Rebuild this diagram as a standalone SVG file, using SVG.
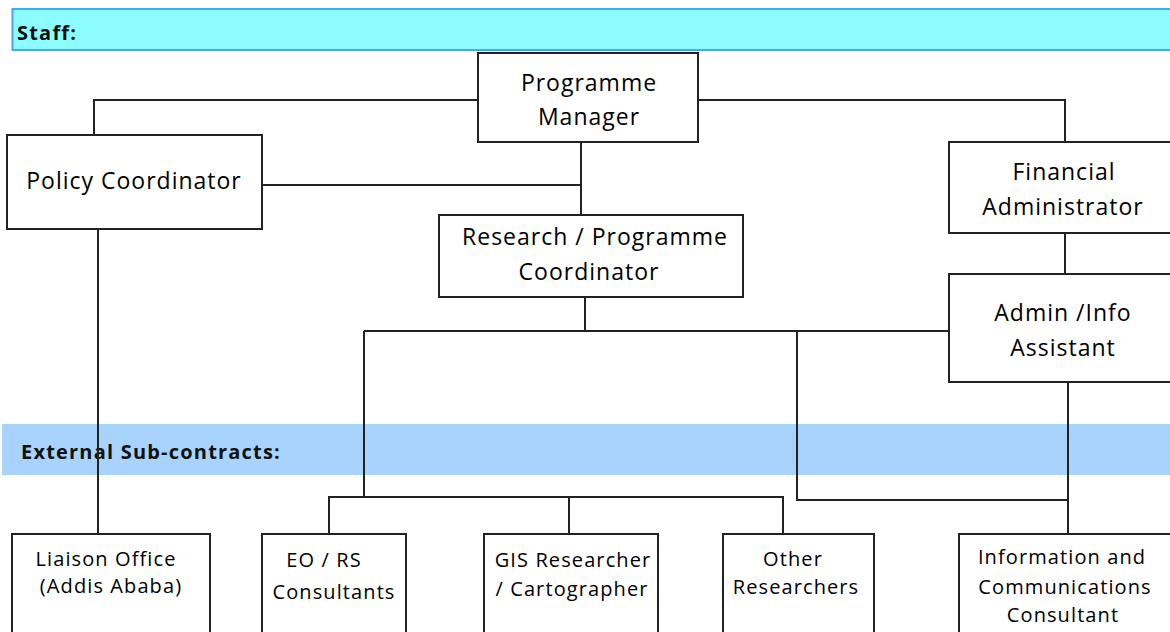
<svg xmlns="http://www.w3.org/2000/svg" width="1170" height="632" viewBox="0 0 1170 632">
<style>
.box{fill:#fff;stroke:#222;stroke-width:2}
.ln{fill:none;stroke:#222;stroke-width:2}
.t{font-family:"Open Sans","Liberation Sans",sans-serif;font-size:23px;letter-spacing:1px;fill:#000;text-anchor:middle}
.s{font-family:"Open Sans","Liberation Sans",sans-serif;font-size:20px;letter-spacing:1.1px;fill:#000;text-anchor:middle}
.h{font-family:"Open Sans","Liberation Sans",sans-serif;font-size:20px;font-weight:bold;letter-spacing:1.2px;fill:#111}
</style>
<rect width="1170" height="632" fill="#fff"/>
<g id="staff-band">
<rect x="12.5" y="9" width="1170" height="41" fill="#8dfcff" stroke="#45a6ff" stroke-width="2"/>
<text class="h" x="17" y="40">Staff:</text>
</g>
<g id="external-band">
<rect x="2" y="424" width="1180" height="51" fill="#a8d3fd"/>
<text class="h" x="21" y="459">External Sub-contracts:</text>
</g>
<g id="connectors">
<path class="ln" d="M94,135 V100 H478"/>
<path class="ln" d="M698,100 H1065 V142"/>
<path class="ln" d="M262,185 H581"/>
<path class="ln" d="M581,142 V215"/>
<path class="ln" d="M1065,233 V274"/>
<path class="ln" d="M585,297 V331"/>
<path class="ln" d="M364,331 H949"/>
<path class="ln" d="M364,331 V497"/>
<path class="ln" d="M329,534 V497 H783 V534"/>
<path class="ln" d="M569,497 V534"/>
<path class="ln" d="M797,331 V500 H1068"/>
<path class="ln" d="M1068,382 V534"/>
<path class="ln" d="M98,229 V534"/>
</g>
<g id="programme-manager">
<rect class="box" x="478" y="53" width="220" height="89"/>
<text class="t" x="589" y="91">Programme</text>
<text class="t" x="589" y="125">Manager</text>
</g>
<g id="policy-coordinator">
<rect class="box" x="7" y="135" width="255" height="94"/>
<text class="t" x="134" y="189">Policy Coordinator</text>
</g>
<g id="research-coordinator">
<rect class="box" x="439" y="215" width="304" height="82"/>
<text class="t" x="595" y="245">Research / Programme</text>
<text class="t" x="589" y="280">Coordinator</text>
</g>
<g id="financial-administrator">
<rect class="box" x="949" y="142" width="240" height="91"/>
<text class="t" x="1064" y="180">Financial</text>
<text class="t" x="1063" y="215">Administrator</text>
</g>
<g id="admin-info-assistant">
<rect class="box" x="949" y="274" width="240" height="108"/>
<text class="t" x="1063" y="321">Admin /Info</text>
<text class="t" x="1063" y="356">Assistant</text>
</g>
<g id="liaison-office">
<rect class="box" x="12" y="534" width="198" height="110"/>
<text class="s" x="106" y="566">Liaison Office</text>
<text class="s" x="111" y="593">(Addis Ababa)</text>
</g>
<g id="eo-rs-consultants">
<rect class="box" x="262" y="534" width="144" height="110"/>
<text class="s" x="324" y="567">EO / RS</text>
<text class="s" x="334" y="599">Consultants</text>
</g>
<g id="gis-researcher">
<rect class="box" x="484" y="534" width="174" height="110"/>
<text class="s" x="573" y="567">GIS Researcher</text>
<text class="s" x="572" y="596">/ Cartographer</text>
</g>
<g id="other-researchers">
<rect class="box" x="723" y="534" width="151" height="110"/>
<text class="s" x="793" y="566">Other</text>
<text class="s" x="796" y="594">Researchers</text>
</g>
<g id="info-comm-consultant">
<rect class="box" x="959" y="534" width="230" height="110"/>
<text class="s" x="1062" y="564">Information and</text>
<text class="s" x="1065" y="594">Communications</text>
<text class="s" x="1063" y="622">Consultant</text>
</g>
</svg>
